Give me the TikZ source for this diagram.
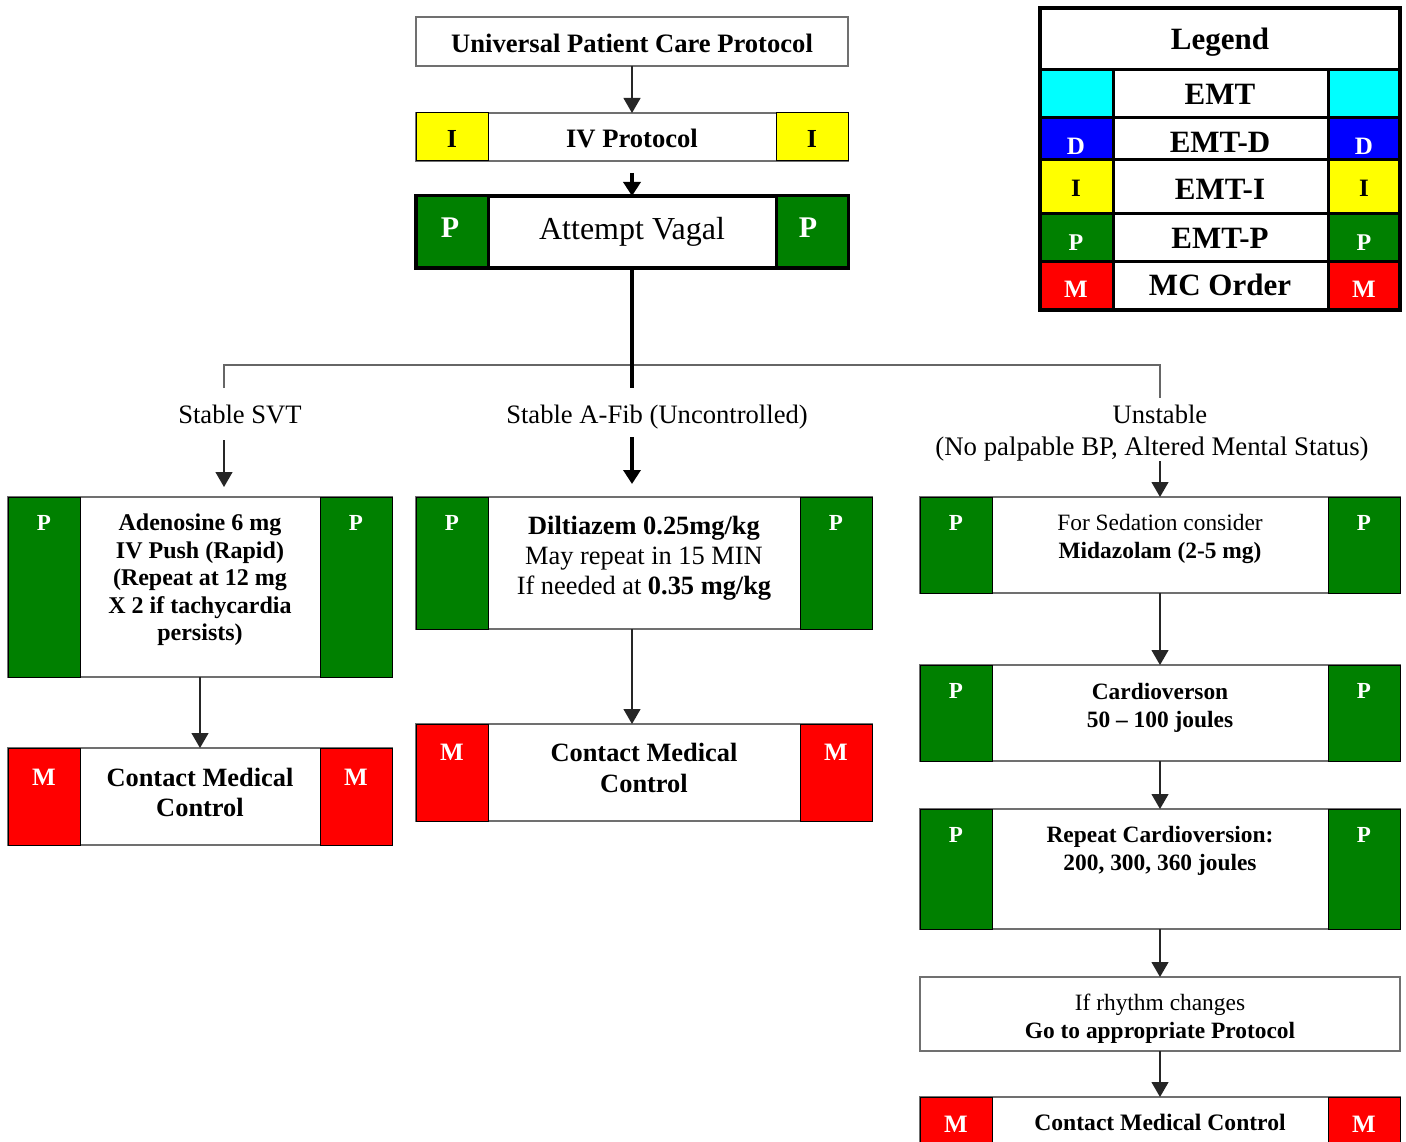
\documentclass[tikz,border=0pt]{standalone}
\usepackage{fontspec}
\setmainfont{Liberation Serif}
\usetikzlibrary{arrows.meta}
\definecolor{cgreen}{HTML}{008000}
\definecolor{cred}{HTML}{FF0000}
\definecolor{cyel}{HTML}{FFFF00}
\definecolor{ccyan}{HTML}{00FFFF}
\definecolor{cblue}{HTML}{0000FF}
\definecolor{bordergray}{HTML}{707070}
\newcommand\fsz[2]{\fontsize{#1}{#2}\selectfont}
\newcommand\flowbox[6]{%
  \node[mainbox, minimum width={#4-#2}, minimum height={#5-#3}] (#1) at (#2,#3) {};
  \node[patch, fill=#6, minimum height={#5-#3}] (#1L) at (#2,#3) {};
  \node[patch, fill=#6, minimum height={#5-#3}, anchor=north east] (#1R) at (#4,#3) {};
}
\newcommand\legrow[4]{%
  \node[legcell, fill=#4, minimum width=73, minimum height=#3] (#1L) at (1040,#2) {};
  \node[legcell, minimum width=215, minimum height=#3] (#1C) at (1113,#2) {};
  \node[legcell, fill=#4, minimum width=72, minimum height=#3] (#1R) at (1328,#2) {};
}
\tikzset{
  mainbox/.style={draw=bordergray, line width=1.4pt, fill=white, inner sep=0pt, outer sep=0pt, anchor=north west},
  patch/.style={draw=black, line width=1pt, inner sep=0pt, outer sep=0pt, minimum width=72pt, anchor=north west},
  legcell/.style={draw=black, line width=3pt, fill=white, inner sep=0pt, outer sep=0pt, anchor=north west},
  txt/.style={inner sep=0pt, outer sep=0pt, align=center},
  lab/.style={inner sep=0pt, outer sep=0pt, font=\fsz{23}{26}\bfseries, text=white, anchor=base},
  arr/.style={draw=black!85, line width=1.2pt, -{Triangle[width=17pt,length=15pt]}},
  arrthick/.style={draw=black, line width=3.5pt, -{Triangle[width=17pt,length=14pt]}},
  thickline/.style={draw=black, line width=4pt},
  branchline/.style={draw=black!60, line width=1.4pt},
}
\begin{document}
\begin{tikzpicture}[x=1pt,y=-1pt]
\useasboundingbox[fill=white] (0,0) rectangle (1406,1142);

% ---------- top chain ----------
\node[mainbox, minimum width=432, minimum height=49] (upc) at (416,17) {};
\node[txt, font=\fsz{26.6}{30}\bfseries, anchor=base] (upcT) at (632,53) {Universal Patient Care Protocol};

\flowbox{iv}{416}{113}{848}{161}{cyel}
\node[txt, font=\fsz{26.6}{30}\bfseries, anchor=base] (ivT) at (632,148) {IV Protocol};
\node[lab, text=black, font=\fsz{26}{30}\bfseries] (ivLa) at (452,148) {I};
\node[lab, text=black, font=\fsz{26}{30}\bfseries] (ivRa) at (812,148) {I};

\node[mainbox, draw=black, line width=4pt, minimum width=432, minimum height=72] (vag) at (416,196) {};
\node[patch, fill=cgreen, line width=3pt, minimum height=72] (vagL) at (416,196) {};
\node[patch, fill=cgreen, line width=3pt, minimum height=72, anchor=north east] (vagR) at (848,196) {};
\node[txt, font=\fsz{32}{36}, anchor=base] (vagT) at (632,240) {Attempt Vagal};
\node[lab, font=\fsz{30}{34}\bfseries] (vagLa) at (450,238) {P};
\node[lab, font=\fsz{30}{34}\bfseries] (vagRa) at (808,238) {P};

\draw[arr] (upc.south) -- (iv.north);
\draw[arrthick] ([yshift=-12pt]iv.south) -- (vag.north);

% ---------- branching ----------
\coordinate (afTop) at (632,388);
\coordinate (brL) at (224,365);
\coordinate (brR) at (1160,365);
\coordinate (svtTop) at (224,388);
\coordinate (unTop) at (1160,398);
\draw[branchline] (svtTop) -- (brL) -- (brR) -- (unTop);
\draw[thickline] (vag.south) -- (afTop);

\node[txt, font=\fsz{26.6}{30}, anchor=base] (svt) at (240,423) {Stable SVT};
\node[txt, font=\fsz{26.6}{30}, anchor=base] (afib) at (657,423) {Stable A-Fib (Uncontrolled)};
\node[txt, font=\fsz{26.6}{30}, anchor=base] (unst) at (1160,423) {Unstable};
\node[txt, font=\fsz{26.8}{30}, anchor=base] (unst2) at (1152,455) {(No palpable BP, Altered Mental Status)};

\coordinate (svtA) at (224,440);
\coordinate (svtB) at (224,487);
\coordinate (afA) at (632,437);
\coordinate (afB) at (632,484);
\coordinate (unA) at (1160,461);

% ---------- left column ----------
\flowbox{ade}{8}{497}{392}{677}{cgreen}
\node[lab] (adeLa) at (44,530) {P};
\node[lab] (adeRa) at (356,530) {P};
\node[txt, font=\fsz{24}{27.5}\bfseries] (adeT) at (200,580)
  {Adenosine 6 mg\\IV Push (Rapid)\\(Repeat at 12 mg\\X 2 if tachycardia\\persists)};

\flowbox{cmcL}{8}{748}{392}{845}{cred}
\node[lab, font=\fsz{25}{28}\bfseries] (cmcLLa) at (44,785) {M};
\node[lab, font=\fsz{25}{28}\bfseries] (cmcLRa) at (356,785) {M};
\node[txt, font=\fsz{26.4}{30}\bfseries] (cmcLT) at (200,792) {Contact Medical\\Control};

% ---------- middle column ----------
\flowbox{dil}{416}{497}{872}{629}{cgreen}
\node[lab] (dilLa) at (452,530) {P};
\node[lab] (dilRa) at (836,530) {P};
\node[txt, font=\fsz{26.4}{30}] (dilT) at (644,558)
  {\textbf{Diltiazem 0.25mg/kg}\\May repeat in 15 MIN\\If needed at \textbf{0.35 mg/kg}};

\flowbox{cmcM}{416}{724}{872}{821}{cred}
\node[lab, font=\fsz{25}{28}\bfseries] (cmcMLa) at (452,760) {M};
\node[lab, font=\fsz{25}{28}\bfseries] (cmcMRa) at (836,760) {M};
\node[txt, font=\fsz{26.4}{31}\bfseries] (cmcMT) at (644,768) {Contact Medical\\Control};

% ---------- right column ----------
\flowbox{sed}{920}{497}{1400}{593}{cgreen}
\node[lab] (sedLa) at (956,530) {P};
\node[lab] (sedRa) at (1364,530) {P};
\node[txt, font=\fsz{23.4}{28}] (sedT) at (1160,539)
  {For Sedation consider\\\textbf{Midazolam (2-5 mg)}};

\flowbox{car}{920}{665}{1400}{761}{cgreen}
\node[lab] (carLa) at (956,698) {P};
\node[lab] (carRa) at (1364,698) {P};
\node[txt, font=\fsz{23.4}{28}\bfseries] (carT) at (1160,708)
  {Cardioverson\\50 -- 100 joules};

\flowbox{rep}{920}{809}{1400}{929}{cgreen}
\node[lab] (repLa) at (956,842) {P};
\node[lab] (repRa) at (1364,842) {P};
\node[txt, font=\fsz{23.4}{28}\bfseries] (repT) at (1160,851)
  {Repeat Cardioversion:\\200, 300, 360 joules};

\node[mainbox, minimum width=480, minimum height=74] (ifr) at (920,977) {};
\node[txt, font=\fsz{23.4}{28}] (ifrT) at (1160,1019)
  {If rhythm changes\\\textbf{Go to appropriate Protocol}};

\flowbox{cmcR}{920}{1097}{1400}{1152}{cred}
\node[lab, font=\fsz{25}{28}\bfseries] (cmcRLa) at (956,1132) {M};
\node[lab, font=\fsz{25}{28}\bfseries] (cmcRRa) at (1364,1132) {M};
\node[txt, font=\fsz{23.6}{28}\bfseries, anchor=base] (cmcRT) at (1160,1130) {Contact Medical Control};

% ---------- connectors ----------
\draw[arr] (svtA) -- (svtB);
\draw[arrthick] (afA) -- (afB);
\draw[arr] (unA) -- (sed.north);
\draw[arr] (ade.south) -- (cmcL.north);
\draw[arr] (vag.south |- dil.south) -- (vag.south |- cmcM.north);
\draw[arr] (sed.south) -- (car.north);
\draw[arr] (car.south) -- (rep.north);
\draw[arr] (rep.south) -- (ifr.north);
\draw[arr] (ifr.south) -- (cmcR.north);

% ---------- legend ----------
\node[legcell, minimum width=360, minimum height=62] (legT) at (1040,8) {};
\node[txt, font=\fsz{31}{34}\bfseries, anchor=base] (legTT) at (1220,50) {Legend};
\legrow{emt}{70}{48}{ccyan}
\legrow{emtd}{118}{42}{cblue}
\legrow{emti}{160}{54}{cyel}
\legrow{emtp}{214}{48}{cgreen}
\legrow{mc}{262}{48}{cred}
\draw[black, line width=4pt] (legT.north west) rectangle (mcR.south east);
\node[txt, font=\fsz{31}{34}\bfseries, anchor=base] (emtT) at (1220,105) {EMT};
\node[txt, font=\fsz{31}{34}\bfseries, anchor=base] (emtdT) at (1220,153) {EMT-D};
\node[txt, font=\fsz{31}{34}\bfseries, anchor=base] (emtiT) at (1220,200) {EMT-I};
\node[txt, font=\fsz{31}{34}\bfseries, anchor=base] (emtpT) at (1220,248) {EMT-P};
\node[txt, font=\fsz{31}{34}\bfseries, anchor=base] (mcT) at (1220,295) {MC Order};
\node[lab, font=\fsz{25}{28}\bfseries] (emtdLa) at (1076,155) {D};
\node[lab, font=\fsz{25}{28}\bfseries] (emtdRa) at (1364,155) {D};
\node[lab, font=\fsz{25}{28}\bfseries, text=black] (emtiLa) at (1076,197) {I};
\node[lab, font=\fsz{25}{28}\bfseries, text=black] (emtiRa) at (1364,197) {I};
\node[lab, font=\fsz{24}{28}\bfseries] (emtpLa) at (1076,251) {P};
\node[lab, font=\fsz{24}{28}\bfseries] (emtpRa) at (1364,251) {P};
\node[lab, font=\fsz{25}{28}\bfseries] (mcLa) at (1076,298) {M};
\node[lab, font=\fsz{25}{28}\bfseries] (mcRa) at (1364,298) {M};
\end{tikzpicture}
\end{document}
